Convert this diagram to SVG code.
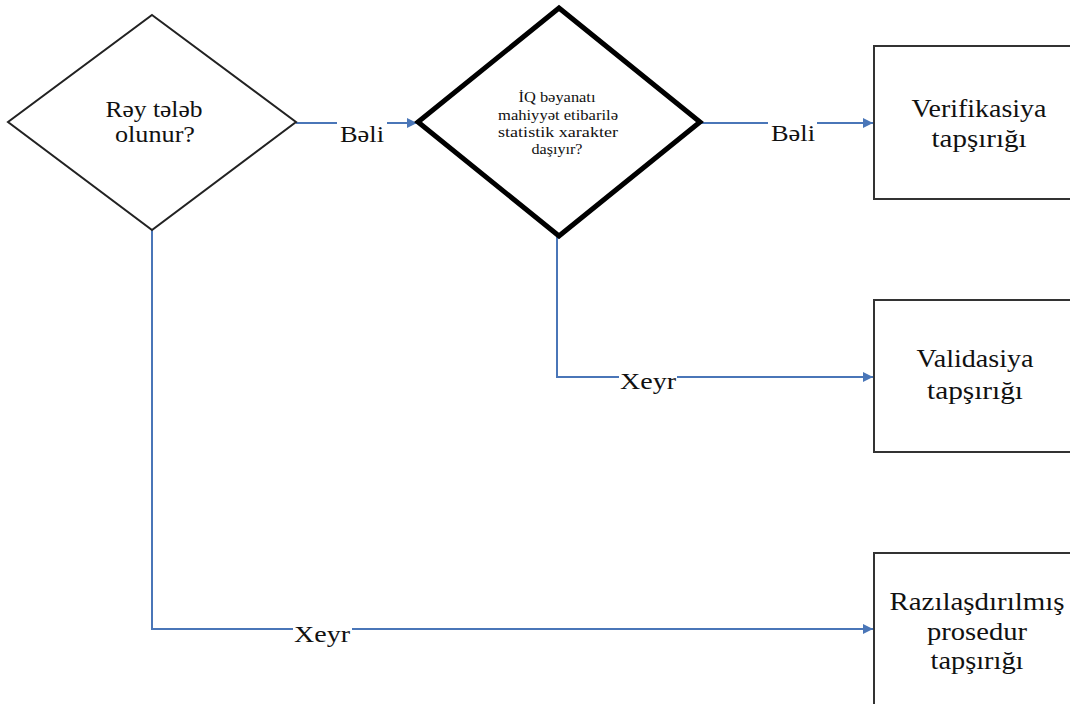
<svg xmlns="http://www.w3.org/2000/svg" width="1070" height="704" viewBox="0 0 1070 704">
<style>
.t{font-family:"Liberation Serif","DejaVu Serif",serif;fill:#111;text-anchor:middle}
.n{font-size:25px}
.l{font-size:24px}
.d{font-size:23px}
.s{font-size:14.5px}
.c{stroke:#4a76b8;stroke-width:2;fill:none}
.box{fill:#fff;stroke:#333;stroke-width:2}
</style>
<defs>
<marker id="ah" viewBox="0 0 10 10" refX="10" refY="5" markerWidth="5" markerHeight="5" orient="auto" markerUnits="strokeWidth">
<path d="M0,0 L10,5 L0,10 z" fill="#4a76b8"/>
</marker>
</defs>
<rect width="1070" height="704" fill="#fff"/>
<g id="connectors">
<line class="c" x1="296" y1="123" x2="337" y2="123"/>
<line class="c" x1="387" y1="123" x2="417" y2="123" marker-end="url(#ah)"/>
<text class="t l" x="362" y="142" textLength="44" lengthAdjust="spacingAndGlyphs">Bəli</text>
<line class="c" x1="701" y1="123" x2="768" y2="123"/>
<line class="c" x1="817" y1="123" x2="873" y2="123" marker-end="url(#ah)"/>
<text class="t l" x="793" y="141" textLength="44" lengthAdjust="spacingAndGlyphs">Bəli</text>
<polyline class="c" points="557,236 557,377 619,377"/>
<line class="c" x1="677" y1="377" x2="873" y2="377" marker-end="url(#ah)"/>
<text class="t l" x="648" y="389" textLength="56" lengthAdjust="spacingAndGlyphs">Xeyr</text>
<polyline class="c" points="152,230 152,629 293,629"/>
<line class="c" x1="352" y1="629" x2="873" y2="629" marker-end="url(#ah)"/>
<text class="t l" x="322" y="642" textLength="56" lengthAdjust="spacingAndGlyphs">Xeyr</text>
</g>
<g id="d1">
<polygon points="152,15 296,122 152,230 8,122" fill="#fff" stroke="#222" stroke-width="2"/>
<text class="t d" x="154" y="117" textLength="97" lengthAdjust="spacingAndGlyphs">Rəy tələb</text>
<text class="t d" x="155" y="142" textLength="80" lengthAdjust="spacingAndGlyphs">olunur?</text>
</g>
<g id="d2">
<polygon points="559,8 700,122 559,236 418,122" fill="#fff" stroke="#000" stroke-width="5" stroke-linejoin="miter"/>
<text class="t s" x="557" y="102" textLength="77" lengthAdjust="spacingAndGlyphs">İQ bəyanatı</text>
<text class="t s" x="558" y="120" textLength="120" lengthAdjust="spacingAndGlyphs">mahiyyət etibarilə</text>
<text class="t s" x="558" y="137" textLength="120" lengthAdjust="spacingAndGlyphs">statistik xarakter</text>
<text class="t s" x="557" y="154" textLength="51" lengthAdjust="spacingAndGlyphs">daşıyır?</text>
</g>
<g id="b1">
<rect class="box" x="874" y="46" width="210" height="153"/>
<text class="t n" x="979" y="117" textLength="135" lengthAdjust="spacingAndGlyphs">Verifikasiya</text>
<text class="t n" x="979" y="147" textLength="95" lengthAdjust="spacingAndGlyphs">tapşırığı</text>
</g>
<g id="b2">
<rect class="box" x="874" y="300" width="210" height="152"/>
<text class="t n" x="975" y="367" textLength="117" lengthAdjust="spacingAndGlyphs">Validasiya</text>
<text class="t n" x="975" y="399" textLength="96" lengthAdjust="spacingAndGlyphs">tapşırığı</text>
</g>
<g id="b3">
<rect class="box" x="874" y="553" width="210" height="160"/>
<text class="t n" x="977" y="610" textLength="175" lengthAdjust="spacingAndGlyphs">Razılaşdırılmış</text>
<text class="t n" x="977" y="640" textLength="100" lengthAdjust="spacingAndGlyphs">prosedur</text>
<text class="t n" x="977" y="669" textLength="93" lengthAdjust="spacingAndGlyphs">tapşırığı</text>
</g>
</svg>
